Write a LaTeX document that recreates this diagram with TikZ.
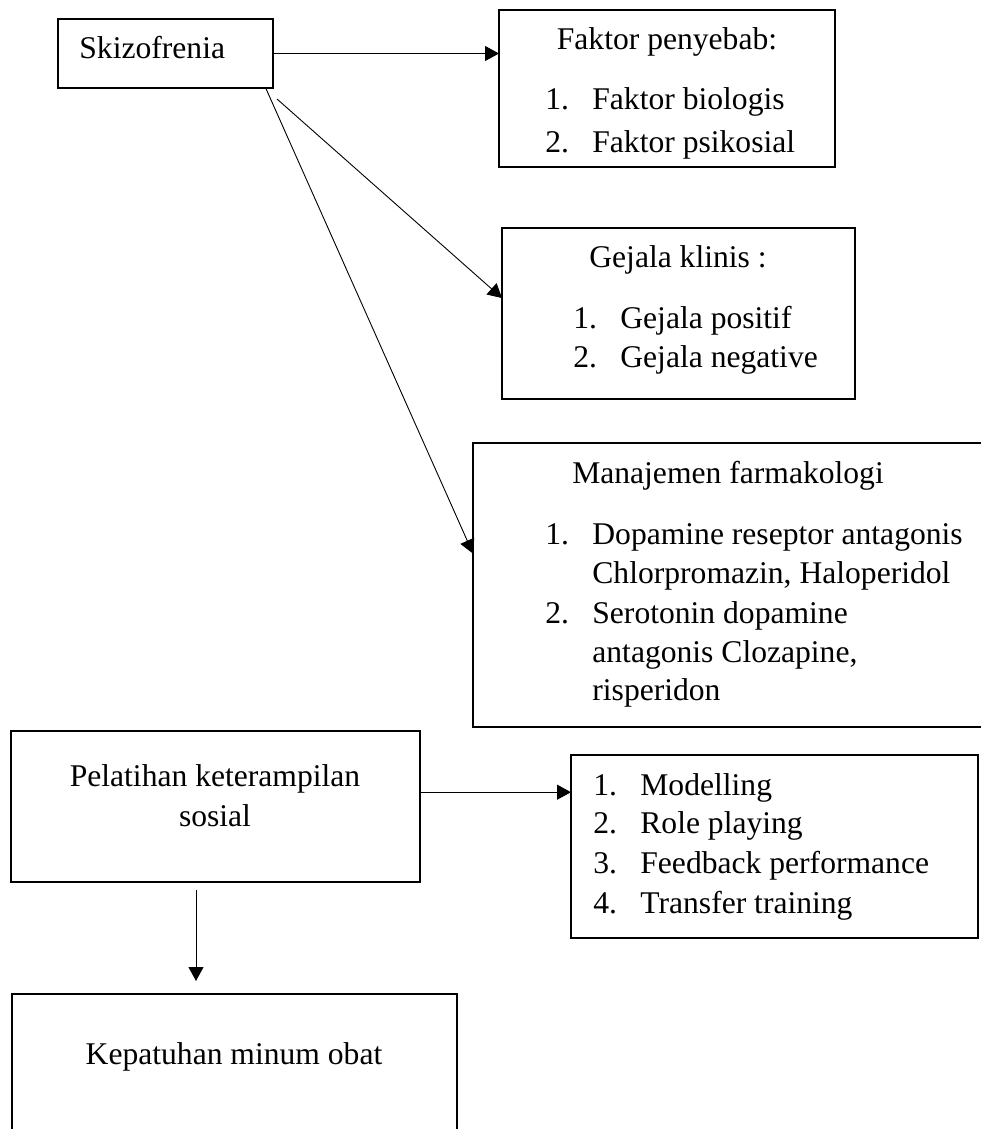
\documentclass[tikz,border=0pt]{standalone}
\usepackage{fontspec}
\setmainfont{Liberation Serif}
\usetikzlibrary{arrows.meta}
\newcommand{\itm}[1]{\makebox[23.5pt][l]{#1}}
\tikzset{
	box/.style={draw, line width=0.8pt, inner sep=0pt, outer sep=0pt, anchor=north west},
	txt/.style={inner sep=0pt, anchor=base, font=\fontsize{15.8}{19}\selectfont},
	txtl/.style={txt, anchor=base west},
	conn/.style={-{Triangle[length=7pt,width=7.5pt]}, line width=0.45pt}
}
\begin{document}
\begin{tikzpicture}[x=0.5pt,y=-0.5pt]
	\useasboundingbox (0,0) rectangle (980,1129);
	
	\begin{scope}
		\node[box, minimum width=107.5pt, minimum height=34.5pt] (skz) at (58,19) {};
		\node[box, minimum width=168pt, minimum height=78.5pt] (fak) at (499,10) {};
		\node[box, minimum width=176.5pt, minimum height=85.5pt] (gej) at (502,228) {};
		\node[box, minimum width=256pt, minimum height=142pt] (man) at (473,443) {};
		\node[box, minimum width=204.5pt, minimum height=75.5pt] (pel) at (11,731) {};
		\node[box, minimum width=203.5pt, minimum height=91.5pt] (lst) at (571,755) {};
		\node[box, minimum width=222.5pt, minimum height=75pt] (kep) at (12,994) {};
	\end{scope}
	
	\begin{scope}
		\node[txtl] (tskz) at (79,59) {Skizofrenia};
		
		\node[txt] (tfak) at (667,50) {Faktor penyebab:};
		\node[txtl] (fak1) at (545,110) {\itm{1.}Faktor biologis};
		\node[txtl] (fak2) at (545,152) {\itm{2.}Faktor psikosial};
		
		\node[txt] (tgej) at (678,267) {Gejala klinis :};
		\node[txtl] (gej1) at (573,328) {\itm{1.}Gejala positif};
		\node[txtl] (gej2) at (573,367) {\itm{2.}Gejala negative};
		
		\node[txt] (tman) at (728,483) {Manajemen farmakologi};
		\node[txtl] (man1) at (545,544) {\itm{1.}Dopamine reseptor antagonis};
		\node[txtl] (man1b) at (592,583) {Chlorpromazin, Haloperidol};
		\node[txtl] (man2) at (545,623) {\itm{2.}Serotonin dopamine};
		\node[txtl] (man2b) at (592,662) {antagonis Clozapine,};
		\node[txtl] (man2c) at (592,700) {risperidon};
		
		\node[txt] (tpel) at (215,786) {Pelatihan keterampilan};
		\node[txt] (tpelb) at (215,826) {sosial};
		
		\node[txtl] (lst1) at (593,795) {\itm{1.}Modelling};
		\node[txtl] (lst2) at (593,833) {\itm{2.}Role playing};
		\node[txtl] (lst3) at (593,873) {\itm{3.}Feedback performance};
		\node[txtl] (lst4) at (593,913) {\itm{4.}Transfer training};
		
		\node[txt] (tkep) at (234,1064) {Kepatuhan minum obat};
	\end{scope}
	
	\coordinate (ga) at (277,99);
	\coordinate (da) at (196,890);
	\coordinate (db) at (196,981);
	
	\begin{scope}
		\draw[conn] (skz.east) -- (skz.east -| fak.west);
		\draw[conn] (ga) -- (gej.175);
		\draw[conn] (skz.-19.5) -- (man.173);
		\draw[conn] (pel.4.9) -- (pel.4.9 -| lst.west);
		\draw[conn] (da) -- (db);
	\end{scope}
\end{tikzpicture}
\end{document}
